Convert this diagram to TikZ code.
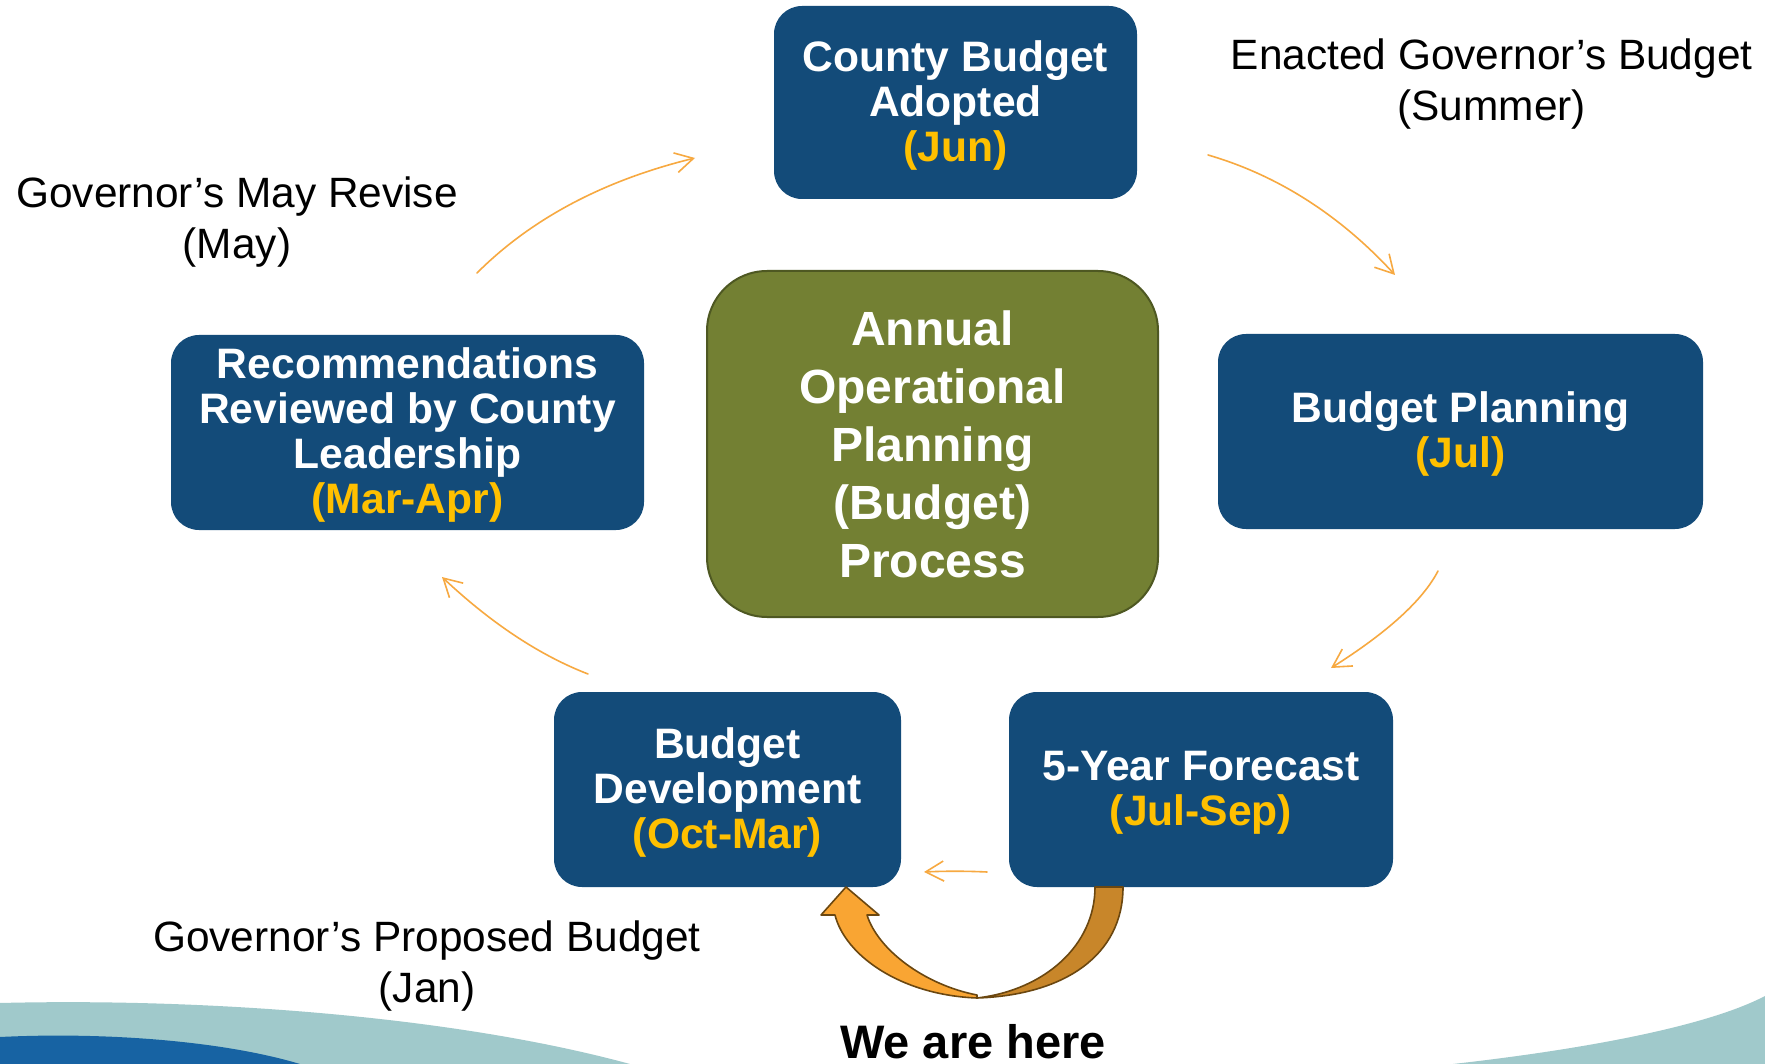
\documentclass[tikz,border=0pt]{standalone}
\usepackage{fontspec}
\setmainfont{Liberation Sans}
\usetikzlibrary{arrows.meta}
\definecolor{boxblue}{HTML}{134B79}
\definecolor{monthyel}{HTML}{FFC000}
\definecolor{olivefill}{HTML}{738033}
\definecolor{oliveline}{HTML}{4E5822}
\definecolor{thinorange}{HTML}{F7A941}
\definecolor{arrlight}{HTML}{F9A533}
\definecolor{arrdark}{HTML}{C8862A}
\definecolor{arrline}{HTML}{6B4710}
\definecolor{waveteal}{HTML}{A0C9CB}
\definecolor{waveblue}{HTML}{1763A3}
\newcommand{\mytopstrut}{\rule{0pt}{36pt}}
\begin{document}
\begin{tikzpicture}[x=1pt,y=-1pt,
  stepbox/.style={fill=boxblue, rounded corners=28pt, text=white, align=center,
    font=\bfseries\fontsize{42.6}{45}\selectfont, inner sep=0pt},
  centerbox/.style={fill=olivefill, draw=oliveline, line width=2pt, rounded corners=60pt,
    text=white, align=center, font=\bfseries\fontsize{48}{58}\selectfont, inner sep=0pt},
  govlabel/.style={align=center, text=black, font=\fontsize{42.4}{51}\selectfont, inner sep=0pt},
  flowarrow/.style={draw=thinorange, line width=1.6pt, line cap=round,
    -{Straight Barb[length=18pt,width=20pt]}},
  mon/.style={text=monthyel}
]
\useasboundingbox (0,0) rectangle (1765,1064);
\fill[white] (0,0) rectangle (1765,1064);

% bottom waves
\fill[waveteal] (0,1003) .. controls (200,998) and (450,1015) .. (630,1064) -- (0,1064) -- cycle;
\fill[waveblue] (0,1037) .. controls (100,1032) and (220,1040) .. (300,1064) -- (0,1064) -- cycle;
\fill[waveteal] (1453,1064) .. controls (1560,1052) and (1700,1030) .. (1765,996) -- (1765,1064) -- cycle;

% boxes
\node[stepbox, minimum width=363pt, minimum height=193pt] (adopt) at (955.5,102.5)
  {\mytopstrut County Budget\\Adopted\\\textcolor{monthyel}{(Jun)}};
\node[stepbox, minimum width=485pt, minimum height=195pt] (plan) at (1460.5,431.5)
  {\mytopstrut Budget Planning\\\textcolor{monthyel}{(Jul)}};
\node[stepbox, minimum width=384pt, minimum height=195pt] (fore) at (1201,789.5)
  {\mytopstrut 5-Year Forecast\\\textcolor{monthyel}{(Jul-Sep)}};
\node[stepbox, minimum width=347pt, minimum height=195pt] (dev) at (727.5,789.5)
  {\mytopstrut Budget\\Development\\\textcolor{monthyel}{(Oct-Mar)}};
\node[stepbox, minimum width=473pt, minimum height=195pt] (rec) at (407.5,432.5)
  {\mytopstrut Recommendations\\Reviewed by County\\Leadership\\\textcolor{monthyel}{(Mar-Apr)}};
\node[centerbox, minimum width=451pt, minimum height=346pt] (core) at (932.5,444)
  {Annual\\Operational\\Planning\\(Budget)\\Process};

% labels
\node[govlabel] (enacted) at (1491.6,84) {Enacted Governor’s Budget\\(Summer)};
\node[govlabel] (mayrev) at (237,222) {Governor’s May Revise\\(May)};
\node[govlabel] (propos) at (427,966) {Governor’s Proposed Budget\\(Jan)};
\node[anchor=base, inner sep=0pt, font=\bfseries\fontsize{47}{50}\selectfont] (here) at (973,1058) {We are here};

% thin flow arrows
\coordinate (a1s) at (477,273);   \coordinate (a1e) at (695,158);
\coordinate (a2s) at (1208,155);  \coordinate (a2e) at (1395,275);
\coordinate (a3s) at (1438,571);  \coordinate (a3e) at (1331,668);
\coordinate (a4s) at (987,872);   \coordinate (a4e) at (924,872);
\coordinate (a5s) at (588,674);   \coordinate (a5e) at (442,577);
\draw[flowarrow] (a1s) .. controls (532,218) and (605,180) .. (a1e);
\draw[flowarrow] (a2s) .. controls (1277,175) and (1340,215) .. (a2e);
\draw[flowarrow] (a3s) .. controls (1423,600) and (1388,632) .. (a3e);
\draw[flowarrow] (a4s) .. controls (966,871) and (945,871) .. (a4e);
\draw[flowarrow] (a5s) .. controls (539,655) and (491,623) .. (a5e);

% curved "we are here" arrow
\filldraw[fill=arrdark, draw=arrline, line width=1.6pt, line join=round]
  (1095,887) -- (1123,887) .. controls (1123,955) and (1065,995) .. (977,998)
  .. controls (1045,990) and (1095,945) .. (1095,887) -- cycle;
\filldraw[fill=arrlight, draw=arrline, line width=1.6pt, line join=round]
  (977,998) .. controls (900,995) and (845,955) .. (835,915) -- (821,915) -- (846,887)
  -- (879,915) -- (867,915) .. controls (878,950) and (925,985) .. (977,995) -- cycle;
\end{tikzpicture}
\end{document}
